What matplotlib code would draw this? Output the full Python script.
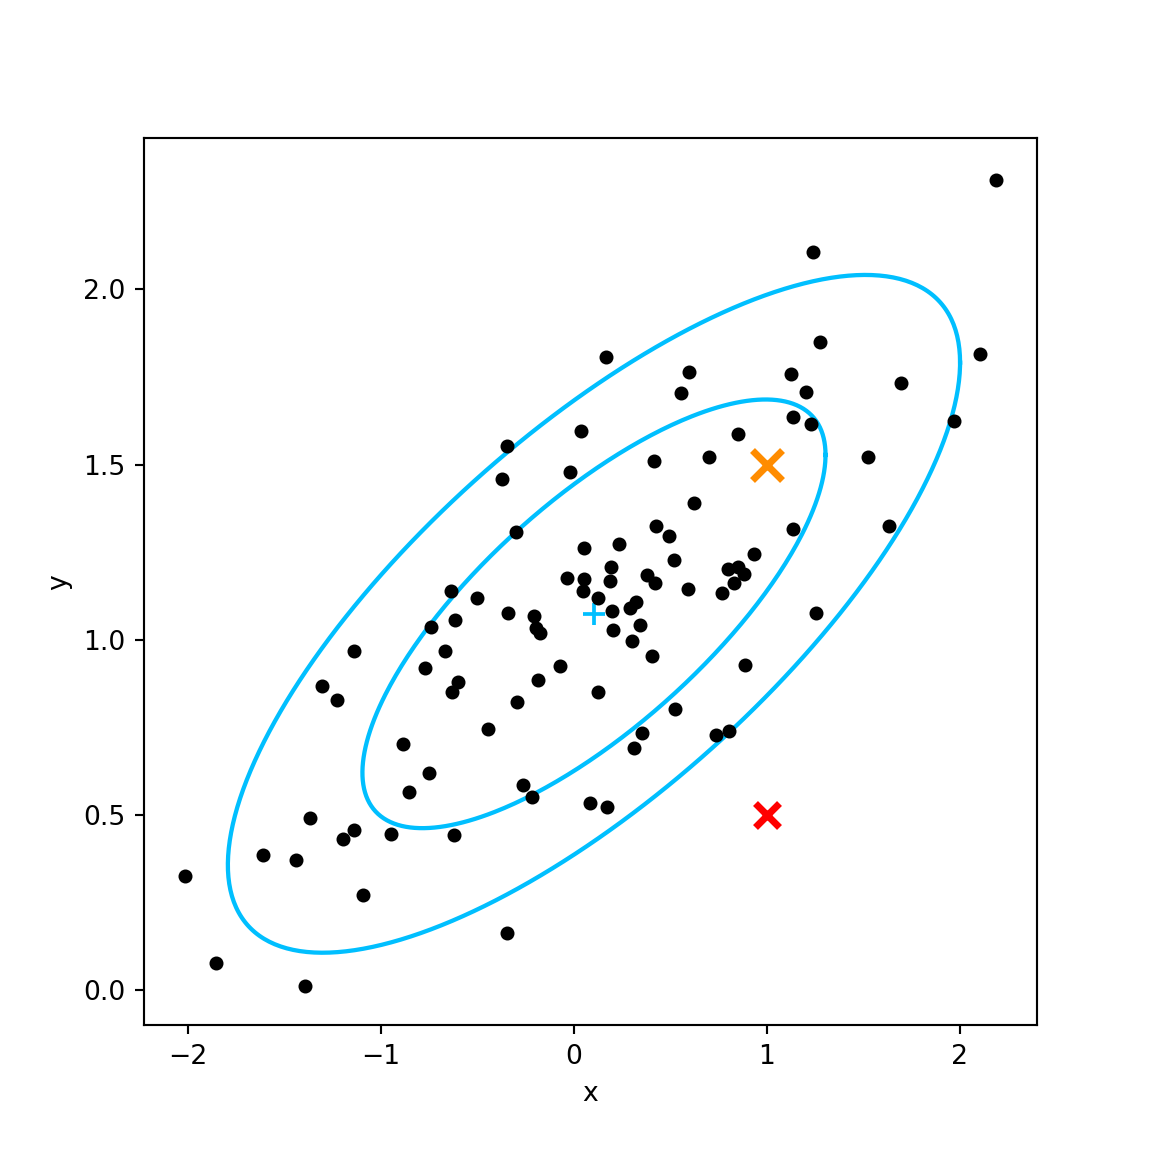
import numpy as np
import matplotlib.pyplot as plt

# sample points
xs = [-2.016, -1.855, -1.394, -1.611, -1.440, -1.368, -1.306, -1.228, -1.140, -1.197,
      -1.140, -1.093, -0.948, -0.886, -0.855, -0.751, -0.772, -0.741, -0.668, -0.637,
      -0.617, -0.632, -0.601, -0.622, -0.503, -0.446, -0.373, -0.347, -0.301, -0.342,
      -0.347, -0.295, -0.264, -0.218, -0.207, -0.197, -0.176, -0.187, -0.073, -0.036,
      -0.021, 0.036, 0.052, 0.052, 0.047, 0.124, 0.124, 0.083, 0.166, 0.171,
      0.187, 0.192, 0.197, 0.202, 0.233, 0.290, 0.301, 0.321, 0.342, 0.352,
      0.311, 0.378, 0.404, 0.415, 0.420, 0.425, 0.492, 0.518, 0.523, 0.554,
      0.591, 0.596, 0.622, 0.699, 0.736, 0.803, 0.767, 0.798, 0.829, 0.850,
      0.881, 0.850, 0.886, 0.933, 1.124, 1.135, 1.135, 1.202, 1.228, 1.238,
      1.254, 1.275, 1.523, 1.632, 1.694, 1.969, 2.104, 2.187]
ys = [0.325, 0.077, 0.011, 0.385, 0.371, 0.491, 0.867, 0.827, 0.967, 0.431,
      0.456, 0.271, 0.445, 0.702, 0.565, 0.619, 0.919, 1.036, 0.967, 1.138,
      1.056, 0.850, 0.879, 0.442, 1.118, 0.745, 1.458, 1.552, 1.307, 1.076,
      0.163, 0.822, 0.585, 0.551, 1.067, 1.033, 1.019, 0.884, 0.924, 1.175,
      1.478, 1.595, 1.261, 1.173, 1.138, 1.118, 0.850, 0.534, 1.806, 0.522,
      1.167, 1.207, 1.081, 1.027, 1.272, 1.090, 0.996, 1.107, 1.041, 0.733,
      0.690, 1.184, 0.953, 1.509, 1.161, 1.324, 1.295, 1.227, 0.802, 1.703,
      1.144, 1.763, 1.389, 1.521, 0.728, 0.739, 1.133, 1.201, 1.161, 1.207,
      1.187, 1.586, 0.927, 1.244, 1.757, 1.635, 1.315, 1.706, 1.615, 2.106,
      1.076, 1.849, 1.521, 1.324, 1.732, 1.623, 1.815, 2.311]

mean = [0.104, 1.074]
cov = [[0.72, 0.272], [0.272, 0.187]]
radii = [np.sqrt(2), np.sqrt(5)]
good_pt = (1.0, 1.5)
bad_pt = (1.0, 0.5)

fig, ax = plt.subplots(figsize=(6, 6), dpi=192)
ax.scatter(xs, ys, c="black", s=18, zorder=3)

t = np.linspace(0, 2 * np.pi, 400)
L = np.linalg.cholesky(np.array(cov))
circle = np.vstack([np.cos(t), np.sin(t)])
for r in radii:
    pts = L @ (r * circle)
    ax.plot(pts[0] + mean[0], pts[1] + mean[1], color="deepskyblue", lw=1.6)

ax.plot(*mean, marker="+", color="deepskyblue", ms=8, mew=1.4, ls="none")
ax.plot(*good_pt, marker="x", color="darkorange", ms=11, mew=2.6, ls="none")
ax.plot(*bad_pt, marker="x", color="red", ms=9, mew=2.6, ls="none")

ax.set_xlim(-2.228, 2.399)
ax.set_ylim(-0.1, 2.431)
ax.set_xlabel("x")
ax.set_ylabel("y")
fig.savefig("out.png", dpi=192)
